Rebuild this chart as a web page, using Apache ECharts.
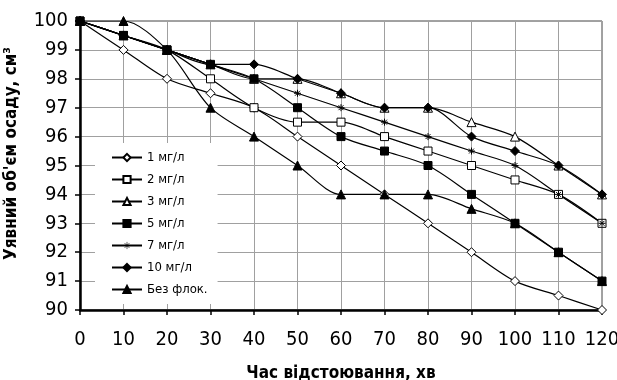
<!DOCTYPE html>
<html>
<head>
<meta charset="utf-8">
<script src="https://cdn.jsdelivr.net/npm/echarts@6/dist/echarts.min.js"></script>
<style>
  html, body { margin: 0; padding: 0; background: #fff; }
  #chart { width: 617px; height: 380px; }
</style>
</head>
<body>
<div id="chart"></div>
<script>
// час відстоювання, хв
const times = [0, 10, 20, 30, 40, 50, 60, 70, 80, 90, 100, 110, 120];
const yTicks = [90, 91, 92, 93, 94, 95, 96, 97, 98, 99, 100];

const dose1 = [100, 99, 98, 97.5, 97, 96, 95, 94, 93, 92, 91, 90.5, 90];
const dose2 = [100, 99.5, 99, 98, 97, 96.5, 96.5, 96, 95.5, 95, 94.5, 94, 93];
const dose3 = [100, 99.5, 99, 98.5, 98, 98, 97.5, 97, 97, 96.5, 96, 95, 94];
const dose5 = [100, 99.5, 99, 98.5, 98, 97, 96, 95.5, 95, 94, 93, 92, 91];
const dose7 = [100, 99.5, 99, 98.5, 98, 97.5, 97, 96.5, 96, 95.5, 95, 94, 93];
const dose10 = [100, 99.5, 99, 98.5, 98.5, 98, 97.5, 97, 97, 96, 95.5, 95, 94];
const noFloc = [100, 100, 99, 97, 96, 95, 94, 94, 94, 93.5, 93, 92, 91];

const narrow = "'Liberation Sans Narrow', 'Arial Narrow', 'DejaVu Sans Condensed', sans-serif";
const star = 'path://M0,5L10,5M5,0L5,10M1.5,1.5L8.5,8.5M8.5,1.5L1.5,8.5';

function pairs(vals) {
  return times.map((t, i) => [t, vals[i]]);
}

function line(name, vals, symbol, filled, size) {
  return {
    name: name,
    type: 'line',
    data: pairs(vals),
    smooth: 0.3,
    symbol: symbol,
    symbolSize: size || 8,
    lineStyle: { color: '#000', width: 1.2 },
    itemStyle: {
      color: filled ? '#000' : '#fff',
      borderColor: '#000',
      borderWidth: 1
    }
  };
}

const chart = echarts.init(document.getElementById('chart'));

chart.setOption({
  animation: false,
  textStyle: { fontFamily: narrow, color: '#000' },
  grid: {
    left: 80, right: 15, top: 21, bottom: 70,
    containLabel: false,
    outerBoundsMode: 'none',
    show: true, borderColor: '#444', borderWidth: 1
  },
  legend: {
    orient: 'vertical',
    left: 95,
    top: 143,
    padding: [8, 10, 8, 16],
    itemWidth: 30,
    itemHeight: 9,
    itemGap: 9,
    backgroundColor: '#fff',
    textStyle: { fontFamily: narrow, fontSize: 13, color: '#000' },
    data: [
      '1 мг/л', '2 мг/л', '3 мг/л', '5 мг/л',
      { name: '7 мг/л', itemStyle: { borderWidth: 0.6 } },
      '10 мг/л', 'Без флок.'
    ]
  },
  xAxis: {
    type: 'value',
    min: times[0],
    max: times[times.length - 1],
    interval: 10,
    name: 'Час відстоювання, хв',
    nameLocation: 'middle',
    nameGap: 55,
    nameTextStyle: { fontFamily: narrow, fontSize: 17, fontWeight: 'bold', color: '#000' },
    axisLine: { lineStyle: { color: '#000', width: 2.5 } },
    axisTick: { show: true, length: 5, lineStyle: { color: '#000', width: 1.5 } },
    axisLabel: { fontSize: 20, color: '#000', margin: 20 },
    splitLine: { lineStyle: { color: '#a0a0a0', width: 1 } }
  },
  yAxis: {
    type: 'value',
    min: yTicks[0],
    max: yTicks[yTicks.length - 1],
    interval: 1,
    name: 'Уявний об\'єм осаду, см³',
    nameLocation: 'middle',
    nameGap: 60,
    nameTextStyle: {
      fontFamily: narrow, fontSize: 17, fontWeight: 'bold', color: '#000',
      padding: [0, 0, 0, 24]
    },
    axisLine: { show: true, lineStyle: { color: '#000', width: 2.5 } },
    axisTick: { show: true, length: 5, lineStyle: { color: '#000', width: 1.5 } },
    axisLabel: { fontSize: 20, color: '#000', margin: 12 },
    splitLine: { lineStyle: { color: '#a0a0a0', width: 1 } }
  },
  series: [
    line('1 мг/л', dose1, 'diamond', false, 9),
    line('2 мг/л', dose2, 'rect', false, 8),
    line('3 мг/л', dose3, 'triangle', false, 9),
    line('5 мг/л', dose5, 'rect', true, 8),
    line('7 мг/л', dose7, star, false, 7),
    line('10 мг/л', dose10, 'diamond', true, 9),
    line('Без флок.', noFloc, 'triangle', true, 9)
  ]
});
</script>
</body>
</html>
